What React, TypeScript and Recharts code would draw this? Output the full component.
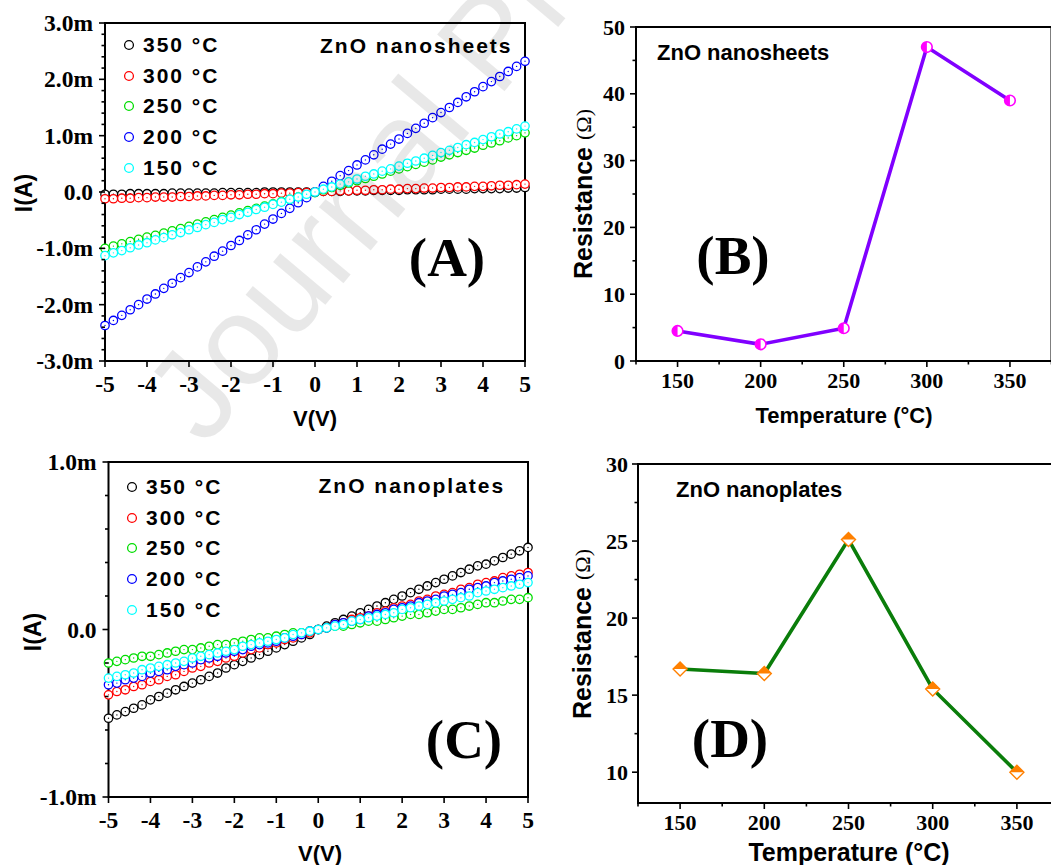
import React from "react";
import { LineChart, Line, XAxis, YAxis, ReferenceArea, Legend } from "recharts";

const SANS = "'Liberation Sans', Arial, sans-serif";
const SERIF = "'Liberation Serif', 'Times New Roman', serif";

// bias voltage (V), one marker every 0.2 V
const VOLTS = [
  -5, -4.8, -4.6, -4.4, -4.2, -4, -3.8, -3.6, -3.4, -3.2,
  -3, -2.8, -2.6, -2.4, -2.2, -2, -1.8, -1.6, -1.4, -1.2,
  -1, -0.8, -0.6, -0.4, -0.2, 0, 0.2, 0.4, 0.6, 0.8,
  1, 1.2, 1.4, 1.6, 1.8, 2, 2.2, 2.4, 2.6, 2.8,
  3, 3.2, 3.4, 3.6, 3.8, 4, 4.2, 4.4, 4.6, 4.8,
  5,
];

// ZnO nanosheets, current in mA
const SHEETS_350 = [
  -0.04, -0.04, -0.04, -0.03, -0.03, -0.03, -0.03, -0.03, -0.02, -0.02,
  -0.02, -0.02, -0.02, -0.02, -0.01, -0.01, -0.01, -0.01, -0.01, 0.0,
  0.0, 0.0, 0.0, 0.0, 0.0, 0.0, 0.01, 0.01, 0.01, 0.02,
  0.02, 0.02, 0.03, 0.03, 0.03, 0.03, 0.04, 0.04, 0.04, 0.04,
  0.05, 0.05, 0.05, 0.05, 0.06, 0.06, 0.06, 0.06, 0.07, 0.07,
  0.08,
];
const SHEETS_300 = [
  -0.12, -0.12, -0.11, -0.11, -0.1, -0.1, -0.09, -0.09, -0.09, -0.08,
  -0.08, -0.07, -0.07, -0.06, -0.06, -0.05, -0.05, -0.04, -0.04, -0.03,
  -0.03, -0.02, -0.02, -0.01, -0.01, 0.0, 0.01, 0.01, 0.02, 0.02,
  0.03, 0.03, 0.04, 0.04, 0.05, 0.05, 0.06, 0.06, 0.07, 0.07,
  0.08, 0.08, 0.09, 0.09, 0.1, 0.1, 0.11, 0.12, 0.12, 0.13,
  0.14,
];
const SHEETS_250 = [
  -1.0, -0.96, -0.92, -0.88, -0.84, -0.8, -0.77, -0.73, -0.69, -0.65,
  -0.61, -0.57, -0.53, -0.49, -0.45, -0.41, -0.37, -0.33, -0.29, -0.25,
  -0.21, -0.17, -0.13, -0.09, -0.05, -0.01, 0.04, 0.08, 0.12, 0.16,
  0.2, 0.24, 0.28, 0.32, 0.37, 0.41, 0.45, 0.49, 0.53, 0.57,
  0.62, 0.66, 0.7, 0.74, 0.78, 0.83, 0.87, 0.91, 0.96, 1.0,
  1.05,
];
const SHEETS_200 = [
  -2.37, -2.28, -2.19, -2.09, -2.0, -1.9, -1.81, -1.71, -1.62, -1.52,
  -1.43, -1.33, -1.24, -1.14, -1.05, -0.95, -0.86, -0.76, -0.67, -0.57,
  -0.48, -0.38, -0.29, -0.19, -0.1, 0.0, 0.1, 0.19, 0.29, 0.38,
  0.48, 0.57, 0.66, 0.76, 0.85, 0.94, 1.04, 1.13, 1.22, 1.32,
  1.41, 1.5, 1.59, 1.69, 1.78, 1.87, 1.96, 2.05, 2.14, 2.23,
  2.32,
];
const SHEETS_150 = [
  -1.13, -1.08, -1.04, -0.99, -0.94, -0.9, -0.85, -0.81, -0.76, -0.72,
  -0.67, -0.63, -0.58, -0.54, -0.49, -0.45, -0.4, -0.36, -0.31, -0.27,
  -0.22, -0.18, -0.13, -0.09, -0.04, 0.0, 0.05, 0.09, 0.14, 0.18,
  0.23, 0.28, 0.32, 0.37, 0.41, 0.46, 0.51, 0.55, 0.6, 0.65,
  0.7, 0.74, 0.79, 0.84, 0.88, 0.93, 0.98, 1.03, 1.07, 1.12,
  1.17,
];

// ZnO nanoplates, current in mA
const PLATES_350 = [
  -0.53, -0.51, -0.49, -0.47, -0.45, -0.42, -0.4, -0.38, -0.36, -0.34,
  -0.32, -0.3, -0.28, -0.26, -0.23, -0.21, -0.19, -0.17, -0.15, -0.13,
  -0.11, -0.09, -0.07, -0.05, -0.03, 0.0, 0.02, 0.04, 0.06, 0.08,
  0.1, 0.12, 0.14, 0.16, 0.18, 0.2, 0.22, 0.24, 0.26, 0.28,
  0.3, 0.32, 0.34, 0.36, 0.38, 0.39, 0.41, 0.43, 0.45, 0.47,
  0.49,
];
const PLATES_300 = [
  -0.39, -0.37, -0.36, -0.34, -0.33, -0.31, -0.3, -0.28, -0.27, -0.25,
  -0.23, -0.22, -0.2, -0.19, -0.17, -0.16, -0.14, -0.12, -0.11, -0.09,
  -0.08, -0.06, -0.05, -0.03, -0.02, 0.0, 0.01, 0.03, 0.04, 0.06,
  0.07, 0.08, 0.1, 0.11, 0.13, 0.14, 0.15, 0.17, 0.18, 0.2,
  0.21, 0.22, 0.24, 0.25, 0.27, 0.28, 0.29, 0.31, 0.32, 0.33,
  0.34,
];
const PLATES_250 = [
  -0.2, -0.19, -0.18, -0.17, -0.16, -0.16, -0.15, -0.14, -0.13, -0.12,
  -0.12, -0.11, -0.1, -0.09, -0.09, -0.08, -0.07, -0.06, -0.05, -0.05,
  -0.04, -0.03, -0.02, -0.02, -0.01, 0.0, 0.01, 0.02, 0.02, 0.03,
  0.04, 0.05, 0.05, 0.06, 0.07, 0.08, 0.09, 0.09, 0.1, 0.11,
  0.12, 0.12, 0.13, 0.14, 0.15, 0.16, 0.16, 0.17, 0.18, 0.18,
  0.19,
];
const PLATES_200 = [
  -0.33, -0.32, -0.3, -0.29, -0.28, -0.26, -0.25, -0.24, -0.22, -0.21,
  -0.2, -0.18, -0.17, -0.16, -0.14, -0.13, -0.12, -0.1, -0.09, -0.08,
  -0.07, -0.05, -0.04, -0.03, -0.01, 0.0, 0.01, 0.03, 0.04, 0.05,
  0.06, 0.08, 0.09, 0.1, 0.12, 0.13, 0.14, 0.16, 0.17, 0.18,
  0.2, 0.21, 0.22, 0.24, 0.25, 0.26, 0.28, 0.29, 0.3, 0.31,
  0.32,
];
const PLATES_150 = [
  -0.29, -0.28, -0.27, -0.26, -0.24, -0.23, -0.22, -0.21, -0.2, -0.19,
  -0.17, -0.16, -0.15, -0.14, -0.13, -0.12, -0.1, -0.09, -0.08, -0.07,
  -0.06, -0.05, -0.03, -0.02, -0.01, 0.0, 0.01, 0.02, 0.03, 0.05,
  0.06, 0.07, 0.08, 0.09, 0.1, 0.12, 0.13, 0.14, 0.15, 0.16,
  0.17, 0.18, 0.19, 0.2, 0.22, 0.23, 0.24, 0.25, 0.26, 0.27,
  0.28,
];

const SERIES_KEYS = ["c350", "c300", "c250", "c200", "c150"];
const SERIES_NAMES = ["350 °C", "300 °C", "250 °C", "200 °C", "150 °C"];
const SERIES_COLORS = ["#000000", "#ff0000", "#00dd00", "#0000ff", "#00ffff"];

// resistance vs annealing temperature
const TEMPS = [150, 200, 250, 300, 350];
const SHEETS_RES = [4.5, 2.5, 4.9, 47, 39];
const PLATES_RES = [16.7, 16.4, 25.1, 15.4, 10.0];

const IV_X_TICKS = [-5, -4, -3, -2, -1, 0, 1, 2, 3, 4, 5];
const SHEETS_Y_MAJOR = [-3, -2, -1, 0, 1, 2, 3];
const PLATES_Y_MAJOR = [-1, 0, 1];
const TEMP_X_MAJOR = [150, 200, 250, 300, 350];
const SHEETS_RES_MAJOR = [0, 10, 20, 30, 40, 50];
const PLATES_RES_MAJOR = [10, 15, 20, 25, 30];

// add n minor ticks between each pair of majors (plus optional ends)
const withMinors = (majors: number[], n: number, lo?: number, hi?: number) => {
  const out: number[] = [];
  if (lo !== undefined) out.push(lo);
  majors.forEach((m, i) => {
    out.push(m);
    if (i < majors.length - 1) {
      const step = (majors[i + 1] - m) / (n + 1);
      for (let k = 1; k <= n; k++) out.push(+(m + step * k).toFixed(4));
    }
  });
  if (hi !== undefined) out.push(hi);
  return out;
};

const near = (a: number, list: number[]) => list.some((b) => Math.abs(a - b) < 1e-6);

const currentFmt = (v: number) => (Math.abs(v) < 1e-9 ? "0.0" : `${v.toFixed(1)}m`);
const plainFmt = (v: number) => `${v}`;

const xTick = (majors: number[], fmt: (v: number) => string, size: number, dy: number) => (props: any) => {
  const { x, y, payload } = props;
  const major = near(payload.value, majors);
  return (
    <g>
      <line x1={x} y1={y} x2={x} y2={y + (major ? 6 : 3.5)} stroke="#000" strokeWidth={1.6} />
      {major && (
        <text x={x} y={y + dy} textAnchor="middle" dominantBaseline="central" fontFamily={SERIF} fontWeight="bold" fontSize={size} fill="#000">
          {fmt(payload.value)}
        </text>
      )}
    </g>
  );
};

const yTick = (majors: number[], fmt: (v: number) => string, size: number, gap: number) => (props: any) => {
  const { x, y, payload } = props;
  const major = near(payload.value, majors);
  return (
    <g>
      <line x1={x} y1={y} x2={x - (major ? 6 : 3.5)} y2={y} stroke="#000" strokeWidth={1.6} />
      {major && (
        <text x={x - gap} y={y} textAnchor="end" dominantBaseline="central" fontFamily={SERIF} fontWeight="bold" fontSize={size} fill="#000">
          {fmt(payload.value)}
        </text>
      )}
    </g>
  );
};

const ringDot = (props: any) => {
  const { cx, cy, stroke, index } = props;
  if (cx == null || cy == null) return <g key={index} />;
  return (
    <g key={index}>
      <circle cx={cx} cy={cy} r={4.2} fill="#fff" stroke={stroke} strokeWidth={1.3} />
      <circle cx={cx} cy={cy} r={0.7} fill={stroke} />
    </g>
  );
};

const halfCircleDot = (props: any) => {
  const { cx, cy, index } = props;
  const r = 5.3;
  return (
    <g key={index}>
      <circle cx={cx} cy={cy} r={r} fill="#fff" stroke="#ff00ff" strokeWidth={1.6} />
      <path d={`M${cx},${cy - r} A${r},${r} 0 0 0 ${cx},${cy + r} Z`} fill="#ff00ff" />
    </g>
  );
};

const halfDiamondDot = (props: any) => {
  const { cx, cy, index } = props;
  const s = 7;
  return (
    <g key={index}>
      <polygon points={`${cx},${cy - s} ${cx + s},${cy} ${cx},${cy + s} ${cx - s},${cy}`} fill="#fff" stroke="#ff8000" strokeWidth={1.4} />
      <polygon points={`${cx - s},${cy} ${cx},${cy - s} ${cx + s},${cy}`} fill="#ff8000" />
    </g>
  );
};

const renderLegend = (props: any) => {
  const items = [...(props.payload || [])].sort(
    (a: any, b: any) => SERIES_NAMES.indexOf(a.value) - SERIES_NAMES.indexOf(b.value)
  );
  return (
    <div style={{ fontFamily: SANS, fontWeight: "bold", fontSize: 21, letterSpacing: 2, color: "#000" }}>
      {items.map((p: any) => (
        <div key={p.value} style={{ display: "flex", alignItems: "center", height: 30.8, whiteSpace: "nowrap" }}>
          <svg width={16} height={16}>
            <circle cx={8} cy={8} r={4.4} fill="none" stroke={p.color} strokeWidth={1.3} />
          </svg>
          <span style={{ marginLeft: 6 }}>{p.value}</span>
        </div>
      ))}
    </div>
  );
};

const buildIV = (cols: number[][]) =>
  VOLTS.map((v, i) => {
    const row: any = { v };
    SERIES_KEYS.forEach((k, j) => (row[k] = cols[j][i]));
    return row;
  });

const sheetsIV = buildIV([SHEETS_350, SHEETS_300, SHEETS_250, SHEETS_200, SHEETS_150]);
const platesIV = buildIV([PLATES_350, PLATES_300, PLATES_250, PLATES_200, PLATES_150]);
const sheetsRes = TEMPS.map((t, i) => ({ t, r: SHEETS_RES[i] }));
const platesRes = TEMPS.map((t, i) => ({ t, r: PLATES_RES[i] }));

function IVChart({ data, yDomain, yMajors, top, right, yWidth, xHeight, height, legendPos, xDy }: any) {
  return (
    <LineChart width={540} height={height} data={data} margin={{ top, right, bottom: 0, left: 0 }}>
      <XAxis
        dataKey="v"
        type="number"
        domain={[-5, 5]}
        ticks={IV_X_TICKS}
        interval={0}
        height={xHeight}
        axisLine={false}
        tickLine={false}
        tickSize={0}
        tickMargin={0}
        tick={xTick(IV_X_TICKS, plainFmt, 23.5, xDy)}
      />
      <YAxis
        type="number"
        domain={yDomain}
        ticks={withMinors(yMajors, 4)}
        interval={0}
        width={yWidth}
        axisLine={false}
        tickLine={false}
        tickSize={0}
        tickMargin={0}
        tick={yTick(yMajors, currentFmt, 23.5, 12)}
      />
      {SERIES_KEYS.map((k, j) => (
        <Line
          key={k}
          dataKey={k}
          name={SERIES_NAMES[j]}
          stroke={SERIES_COLORS[j]}
          strokeWidth={1}
          dot={ringDot}
          activeDot={false}
          isAnimationActive={false}
        />
      ))}
      <ReferenceArea x1={-5} x2={5} y1={yDomain[0]} y2={yDomain[1]} fill="none" fillOpacity={0} stroke="#000" strokeWidth={2} ifOverflow="visible" />
      <Legend
        layout="vertical"
        align="center"
        verticalAlign="middle"
        content={renderLegend}
        wrapperStyle={{ left: legendPos[0], top: legendPos[1], width: "auto" }}
      />
    </LineChart>
  );
}

function ResChart({ data, yDomain, yMajors, yMinors, width, height, top, right, yWidth, xHeight, color, dot, yGap }: any) {
  return (
    <LineChart width={width} height={height} data={data} margin={{ top, right, bottom: 0, left: 0 }}>
      <XAxis
        dataKey="t"
        type="number"
        domain={[125, 375]}
        ticks={withMinors(TEMP_X_MAJOR, 1, 125, 375)}
        interval={0}
        height={xHeight}
        axisLine={false}
        tickLine={false}
        tickSize={0}
        tickMargin={0}
        tick={xTick(TEMP_X_MAJOR, plainFmt, 22, 19.5)}
      />
      <YAxis
        type="number"
        domain={yDomain}
        ticks={yMinors}
        interval={0}
        width={yWidth}
        axisLine={false}
        tickLine={false}
        tickSize={0}
        tickMargin={0}
        tick={yTick(yMajors, plainFmt, 22, yGap)}
      />
      <Line dataKey="r" stroke={color} strokeWidth={3.6} dot={dot} activeDot={false} isAnimationActive={false} />
      <ReferenceArea x1={125} x2={375} y1={yDomain[0]} y2={yDomain[1]} fill="none" fillOpacity={0} stroke="#000" strokeWidth={2} ifOverflow="visible" />
    </LineChart>
  );
}

const txt = { fontFamily: SANS, fontWeight: "bold", fill: "#000" } as const;
const big = { fontFamily: SERIF, fontWeight: "bold", fontSize: 55, fill: "#000", textAnchor: "middle" } as const;

function ResistanceTitle({ x, y }: { x: number; y: number }) {
  return (
    <text x={x} y={y} transform={`rotate(-90 ${x} ${y})`} textAnchor="middle" dominantBaseline="central">
      <tspan fontFamily={SANS} fontWeight="bold" fontSize={25}>Resistance </tspan>
      <tspan fontFamily={SERIF} fontSize={22}>(Ω)</tspan>
    </text>
  );
}

export default function App() {
  return (
    <div style={{ position: "absolute", left: 0, top: 0, width: 1051, height: 865, overflow: "hidden", background: "#fff" }}>
      <div style={{ position: "absolute", left: 0, top: 0 }}>
        <IVChart data={sheetsIV} yDomain={[-3, 3]} yMajors={SHEETS_Y_MAJOR} top={23} right={15} yWidth={105} xHeight={79} height={440} legendPos={[121, 29.5]} xDy={23} />
      </div>
      <div style={{ position: "absolute", left: 0, top: 440 }}>
        <IVChart data={platesIV} yDomain={[-1, 1]} yMajors={PLATES_Y_MAJOR} top={22} right={12} yWidth={108.5} xHeight={68} height={425} legendPos={[124, 31.5]} xDy={22.5} />
      </div>
      <div style={{ position: "absolute", left: 540, top: 0 }}>
        <ResChart
          data={sheetsRes}
          yDomain={[0, 50]}
          yMajors={SHEETS_RES_MAJOR}
          yMinors={withMinors(SHEETS_RES_MAJOR, 1)}
          width={520}
          height={440}
          top={27}
          right={8.5}
          yWidth={96}
          xHeight={79}
          color="#8000ff"
          dot={halfCircleDot}
          yGap={11}
        />
      </div>
      <div style={{ position: "absolute", left: 540, top: 440 }}>
        <ResChart
          data={platesRes}
          yDomain={[8, 30]}
          yMajors={PLATES_RES_MAJOR}
          yMinors={withMinors(PLATES_RES_MAJOR, 1)}
          width={530}
          height={425}
          top={24}
          right={11}
          yWidth={98}
          xHeight={62}
          color="#0a7d0a"
          dot={halfDiamondDot}
          yGap={10}
        />
      </div>
      <svg width={1051} height={865} style={{ position: "absolute", left: 0, top: 0, pointerEvents: "none" }}>
        <text x={320} y={45} {...txt} fontSize={21} letterSpacing={2} dominantBaseline="central">ZnO nanosheets</text>
        <text x={447} y={276} {...big}>(A)</text>
        <text x={315} y={418} {...txt} fontSize={22} textAnchor="middle" dominantBaseline="central">V(V)</text>
        <text x={23.5} y={193} {...txt} fontSize={23} textAnchor="middle" dominantBaseline="central" transform="rotate(-90 23.5 193)">I(A)</text>

        <text x={657} y={52} {...txt} fontSize={22} dominantBaseline="central">ZnO nanosheets</text>
        <text x={733} y={274} {...big}>(B)</text>
        <text x={844} y={415} {...txt} fontSize={22} textAnchor="middle" dominantBaseline="central">Temperature (°C)</text>
        <ResistanceTitle x={582.5} y={194} />

        <text x={318.5} y={485} {...txt} fontSize={21} letterSpacing={2} dominantBaseline="central">ZnO nanoplates</text>
        <text x={464} y={758} {...big}>(C)</text>
        <text x={320} y={853} {...txt} fontSize={22} textAnchor="middle" dominantBaseline="central">V(V)</text>
        <text x={33} y={632} {...txt} fontSize={23} textAnchor="middle" dominantBaseline="central" transform="rotate(-90 33 632)">I(A)</text>

        <text x={676} y={489} {...txt} fontSize={22} dominantBaseline="central">ZnO nanoplates</text>
        <text x={730} y={757} {...big}>(D)</text>
        <text x={849} y={852} {...txt} fontSize={25} textAnchor="middle" dominantBaseline="central">Temperature (°C)</text>
        <ResistanceTitle x={582} y={634} />

        <text x={205} y={448} fontFamily={SANS} fontSize={128} fill="#000" fillOpacity={0.09} transform="rotate(-50 205 448)">Journal Pre-proof</text>
      </svg>
    </div>
  );
}
